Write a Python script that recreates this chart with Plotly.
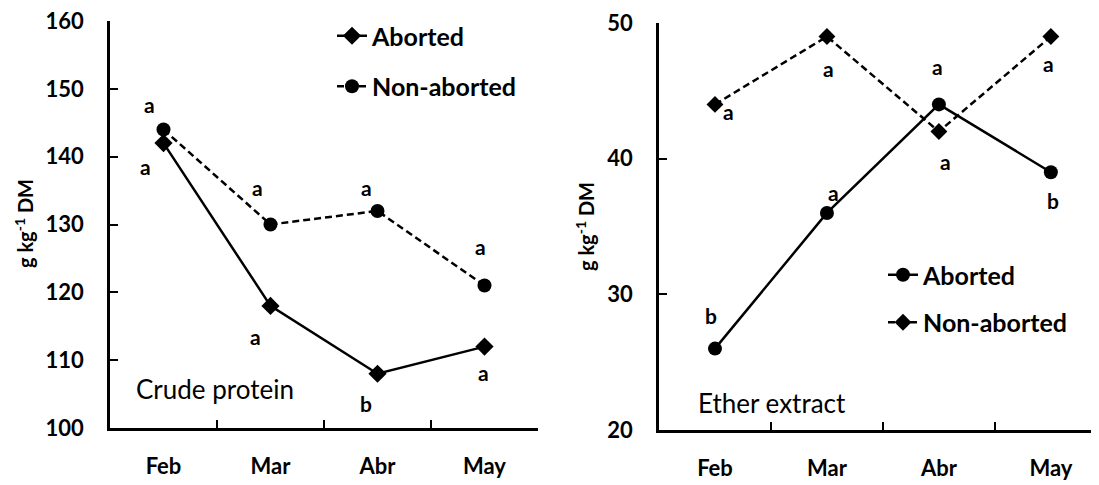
import plotly.graph_objects as go

# ---- data ----
months = ["Feb", "Mar", "Abr", "May"]

cp_aborted = [142, 118, 108, 112]
cp_non_aborted = [144, 130, 132, 121]
cp_aborted_letters = ["a", "a", "b", "a"]
cp_non_aborted_letters = ["a", "a", "a", "a"]

ee_aborted = [26, 36, 44, 39]
ee_non_aborted = [44, 49, 42, 49]
ee_aborted_letters = ["b", "a", "a", "b"]
ee_non_aborted_letters = ["a", "a", "a", "a"]

cp_ticks = [100, 110, 120, 130, 140, 150, 160]
ee_ticks = [20, 30, 40, 50]

# ---- style: label offsets in pixels (xshift, yshift) ----
cp_ab_off = [(-18, -23), (-15, -31), (-12, -30), (-1, -26)]
cp_na_off = [(-14, 25), (-13, 37), (-11, 23), (-4, 39)]
ee_ab_off = [(-4, 33), (7, 20), (-1, 38), (2, -28)]
ee_na_off = [(14, -7), (2, -32), (7, -30), (-2, -27)]

FONT = "Lato, Carlito, Calibri, Arial, sans-serif"
BLACK = "#000000"

# page has an 8px body margin; figure sized to fit the window
OFF = 8
W, H = 1099 - OFF, 485 - OFF


def px(x):
    return (x - OFF) / W


def py(y):
    return 1 - (y - OFF) / H


fig = go.Figure()

# left panel: crude protein
fig.add_trace(go.Scatter(
    x=months, y=cp_aborted, name="Aborted", mode="lines+markers",
    line=dict(color=BLACK, width=2.5),
    marker=dict(symbol="diamond", size=14, color=BLACK),
    xaxis="x", yaxis="y", legend="legend", legendgroup="a1"))
fig.add_trace(go.Scatter(
    x=months, y=cp_non_aborted, name="Non-aborted", mode="lines+markers",
    line=dict(color=BLACK, width=2.5, dash="7px,4px"),
    marker=dict(symbol="circle", size=14, color=BLACK),
    xaxis="x", yaxis="y", legend="legend", legendgroup="a2"))

# right panel: ether extract
fig.add_trace(go.Scatter(
    x=months, y=ee_aborted, name="Aborted", mode="lines+markers",
    line=dict(color=BLACK, width=2.5),
    marker=dict(symbol="circle", size=14, color=BLACK),
    xaxis="x2", yaxis="y2", legend="legend2", legendgroup="b1"))
fig.add_trace(go.Scatter(
    x=months, y=ee_non_aborted, name="Non-aborted", mode="lines+markers",
    line=dict(color=BLACK, width=2.5, dash="7px,4px"),
    marker=dict(symbol="diamond", size=13, color=BLACK),
    xaxis="x2", yaxis="y2", legend="legend2", legendgroup="b2"))

annotations = []
letter_font = dict(family=FONT, size=21, color=BLACK, weight="bold")


def add_letters(xref, yref, values, letters, offsets):
    for m, v, t, (dx, dy) in zip(months, values, letters, offsets):
        annotations.append(dict(
            x=m, y=v, xref=xref, yref=yref, text=t, showarrow=False,
            xshift=dx, yshift=dy, font=letter_font))


add_letters("x", "y", cp_aborted, cp_aborted_letters, cp_ab_off)
add_letters("x", "y", cp_non_aborted, cp_non_aborted_letters, cp_na_off)
add_letters("x2", "y2", ee_aborted, ee_aborted_letters, ee_ab_off)
add_letters("x2", "y2", ee_non_aborted, ee_non_aborted_letters, ee_na_off)

caption_font = dict(family=FONT, size=26, color=BLACK)
title_font = dict(family=FONT, size=20, color=BLACK, weight="bold")
annotations += [
    dict(x=px(134), y=py(389), xref="paper", yref="paper",
         xanchor="left", yanchor="middle", text="Crude protein",
         showarrow=False, font=caption_font),
    dict(x=px(696), y=py(403), xref="paper", yref="paper",
         xanchor="left", yanchor="middle", text="Ether extract",
         showarrow=False, font=caption_font),
    dict(x=px(24), y=py(224), xref="paper", yref="paper",
         xanchor="center", yanchor="middle", textangle=-90,
         text="g kg<sup>-1</sup> DM", showarrow=False, font=title_font),
    dict(x=px(585), y=py(227), xref="paper", yref="paper",
         xanchor="center", yanchor="middle", textangle=-90,
         text="g kg<sup>-1</sup> DM", showarrow=False, font=title_font),
]

tick_font = dict(family=FONT, size=22, color=BLACK, weight="bold")

xaxis_common = dict(
    type="category", showline=True, linecolor=BLACK, linewidth=2.5,
    ticks="inside", tickson="boundaries", ticklen=8, tickwidth=2,
    tickcolor=BLACK, showgrid=False, zeroline=False, tickfont=tick_font,
    ticklabelstandoff=17, ticklabeloverflow="allow", automargin=False,
    fixedrange=True)
yaxis_common = dict(
    showline=True, linecolor=BLACK, linewidth=2.5, ticks="inside",
    ticklen=8, tickwidth=2, tickcolor=BLACK, showgrid=False,
    zeroline=False, tickfont=tick_font, ticklabelstandoff=19,
    ticklabeloverflow="allow", automargin=False, fixedrange=True)

legend_common = dict(
    font=dict(family=FONT, size=25, color=BLACK, weight="bold"),
    bgcolor="rgba(0,0,0,0)", borderwidth=0,
    itemwidth=30, xanchor="left", yanchor="top")

fig.update_layout(
    width=W, height=H,
    margin=dict(l=0, r=0, t=0, b=0),
    paper_bgcolor="white", plot_bgcolor="white",
    showlegend=True,
    xaxis=dict(**xaxis_common, domain=[px(110), px(538)],
               range=[-0.5, 3.5], anchor="y"),
    yaxis=dict(**yaxis_common, domain=[py(428), py(21)],
               range=[100, 160], tickvals=cp_ticks, anchor="x"),
    xaxis2=dict(**xaxis_common, domain=[px(659), 1.0],
                range=[-0.5, 3.43], anchor="y2"),
    yaxis2=dict(**yaxis_common, domain=[py(430), py(23)],
                range=[20, 50], tickvals=ee_ticks, anchor="x2"),
    legend=dict(**legend_common, x=px(332), y=py(13), tracegroupgap=15),
    legend2=dict(**legend_common, x=px(883), y=py(252), tracegroupgap=12),
    annotations=annotations,
)

fig.write_html("out.html")
